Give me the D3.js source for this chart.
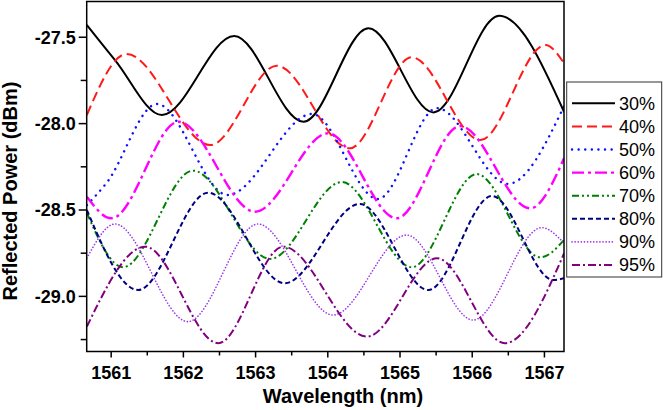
<!DOCTYPE html>
<html><head><meta charset="utf-8">
<script src="https://cdn.jsdelivr.net/npm/d3@7/dist/d3.min.js"></script>
<style>body{margin:0;background:#fff}svg{display:block}</style>
</head><body>
<svg id="chart" width="663" height="410"></svg>
<script>
// ---- data (wavelength nm, reflected power dBm) ----
const seriesLabels = ["30%","40%","50%","60%","70%","80%","90%","95%"];
const p30 = [[1560.67,-27.432],[1561.06,-27.635],[1561.71,-27.953],[1562.71,-27.496],[1563.67,-27.992],[1564.57,-27.451],[1565.47,-27.938],[1566.38,-27.379],[1567.28,-27.936]];
const p40 = [[1560.67,-27.953],[1561.22,-27.600],[1562.38,-28.127],[1563.30,-27.668],[1564.31,-28.146],[1565.17,-27.619],[1566.12,-28.098],[1567.02,-27.548],[1567.28,-27.654]];
const p50 = [[1560.67,-28.475],[1560.94,-28.348],[1561.64,-27.889],[1562.62,-28.416],[1563.79,-27.947],[1564.70,-28.439],[1565.52,-27.913],[1566.50,-28.352],[1567.28,-27.901]];
const p60 = [[1560.67,-28.426],[1561.01,-28.551],[1561.94,-27.992],[1563.00,-28.513],[1564.01,-28.059],[1564.96,-28.551],[1565.84,-28.017],[1566.81,-28.493],[1567.28,-28.202]];
const p70 = [[1560.67,-28.520],[1561.17,-28.834],[1562.14,-28.275],[1563.21,-28.786],[1564.20,-28.341],[1565.17,-28.834],[1566.07,-28.295],[1566.95,-28.777],[1567.28,-28.676]];
const p80 = [[1560.67,-28.503],[1561.38,-28.966],[1562.35,-28.403],[1563.41,-28.927],[1564.45,-28.468],[1565.40,-28.966],[1566.28,-28.422],[1567.13,-28.908],[1567.28,-28.898]];
const p90 = [[1560.67,-28.782],[1561.06,-28.584],[1562.07,-29.149],[1563.04,-28.584],[1564.08,-29.111],[1565.10,-28.648],[1566.02,-29.140],[1566.97,-28.605],[1567.28,-28.696]];
const p95 = [[1560.67,-29.178],[1561.48,-28.715],[1562.49,-29.274],[1563.39,-28.715],[1564.55,-29.236],[1565.52,-28.782],[1566.46,-29.274],[1567.28,-28.753]];
const seriesData = [p30,p40,p50,p60,p70,p80,p90,p95];

const xTickValues = [1561,1562,1563,1564,1565,1566,1567];
const xMinorValues = [1561.5,1562.5,1563.5,1564.5,1565.5,1566.5];
const yTickValues = [-27.5,-28.0,-28.5,-29.0];
const yMinorValues = [-27.75,-28.25,-28.75,-29.25];
const xTitle = "Wavelength (nm)";
const yTitle = "Reflected Power (dBm)";

// ---- styles ----
const styles = [
  {color:"#000000", width:2,   dash:null},
  {color:"#ff1a1a", width:2,   dash:"10 5"},
  {color:"#1010ff", width:2.4, dash:"0.1 6.5", cap:"round"},
  {color:"#ff00ff", width:2.4, dash:"12 4 3 4"},
  {color:"#008000", width:2,   dash:"7 3 2 3 2 3"},
  {color:"#000080", width:2,   dash:"5 3"},
  {color:"#9933ee", width:1.6, dash:"0.1 3", cap:"round"},
  {color:"#800080", width:2,   dash:"8 3 2 3"}
];

const svg = d3.select("#chart");
const P = {left:86.7, right:564, top:1.5, bottom:351.5};
const x = d3.scaleLinear().domain([1560.668,1567.278]).range([P.left,P.right]);
const y = d3.scaleLinear().domain([-29.322,-27.296]).range([P.bottom,P.top]);

svg.append("defs").append("clipPath").attr("id","clip")
  .append("rect").attr("x",P.left).attr("y",P.top)
  .attr("width",P.right-P.left).attr("height",P.bottom-P.top);

const line = d3.line().x(d=>x(d[0])).y(d=>y(d[1])).curve(d3.curveMonotoneX);
const g = svg.append("g").attr("clip-path","url(#clip)");
seriesData.forEach((s,i)=>{
  const st = styles[i];
  g.append("path").datum(s).attr("d",line)
    .attr("fill","none").attr("stroke",st.color).attr("stroke-width",st.width)
    .attr("stroke-dasharray",st.dash).attr("stroke-linecap",st.cap||"butt");
});

// axes
const fontB = "'Liberation Sans', Arial, sans-serif";
const xAxis = svg.append("g").attr("transform",`translate(0,${P.bottom})`)
  .call(d3.axisBottom(x).tickValues(xTickValues).tickSize(6).tickPadding(9).tickFormat(d=>String(d)));
const xMinor = svg.append("g").attr("transform",`translate(0,${P.bottom})`)
  .call(d3.axisBottom(x).tickValues(xMinorValues).tickSize(4).tickFormat(""));
const yAxis = svg.append("g").attr("transform",`translate(${P.left},0)`)
  .call(d3.axisLeft(y).tickValues(yTickValues).tickSize(8).tickPadding(3).tickFormat(d=>d.toFixed(1)));
const yMinor = svg.append("g").attr("transform",`translate(${P.left},0)`)
  .call(d3.axisLeft(y).tickValues(yMinorValues).tickSize(6).tickFormat(""));
[xAxis,xMinor,yAxis,yMinor].forEach(a=>{
  a.select(".domain").remove();
  a.selectAll("line").attr("stroke","#000").attr("stroke-width",1.5);
  a.selectAll("text").attr("font-family",fontB).attr("font-weight","bold")
    .attr("font-size",18).attr("fill","#000");
});
yAxis.selectAll("text").attr("dy","0.35em");

// frame
svg.append("rect").attr("x",P.left).attr("y",P.top)
  .attr("width",P.right-P.left).attr("height",P.bottom-P.top)
  .attr("fill","none").attr("stroke","#000").attr("stroke-width",1.5);

// titles
svg.append("text").text(xTitle).attr("x",343).attr("y",403)
  .attr("text-anchor","middle").attr("font-family",fontB).attr("font-weight","bold")
  .attr("font-size",20).attr("fill","#000");
svg.append("text").text(yTitle)
  .attr("transform","translate(17,191) rotate(-90)")
  .attr("text-anchor","middle").attr("font-family",fontB).attr("font-weight","bold")
  .attr("font-size",20).attr("fill","#000");

// legend
const L = {x:566.7, y:82, w:95, h:195};
svg.append("rect").attr("x",L.x).attr("y",L.y).attr("width",L.w).attr("height",L.h)
  .attr("fill","#fff").attr("stroke","#333").attr("stroke-width",1);
const lg = svg.append("g");
seriesLabels.forEach((lab,i)=>{
  const st = styles[i];
  const yy = 103.3 + i*23.1;
  lg.append("line").attr("x1",572).attr("x2",615).attr("y1",yy).attr("y2",yy)
    .attr("stroke",st.color).attr("stroke-width",st.width)
    .attr("stroke-dasharray",st.dash).attr("stroke-linecap",st.cap||"butt");
  lg.append("text").text(lab).attr("x",619).attr("y",yy+6.3)
    .attr("font-family",fontB).attr("font-size",18).attr("fill","#000");
});
</script>
</body></html>
